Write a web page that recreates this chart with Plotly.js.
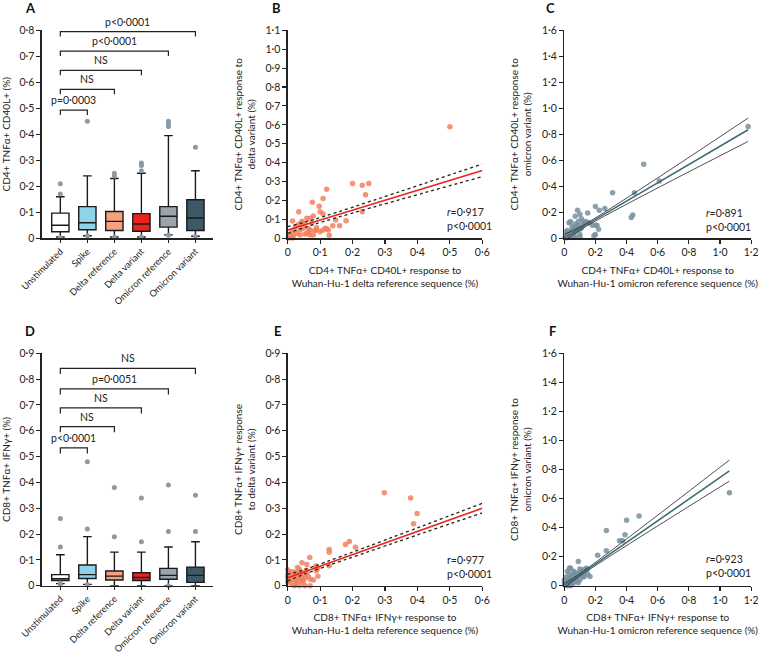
<!DOCTYPE html>
<html>
<head>
<meta charset="utf-8">
<script src="https://cdn.plot.ly/plotly-3.0.1.min.js"></script>
<style>html,body{margin:0;padding:0;background:#fff;}#chart{width:758px;height:653px;}</style>
</head>
<body>
<div id="chart"></div>
<script>
// ---------- DATA ----------
const categories = ['Unstimulated','Spike','Delta reference','Delta variant','Omicron reference','Omicron variant'];

// Panel A: CD4+ TNFa+ CD40L+ (%)
const aLow  = [0.005,0.010,0.005,0.005,0.013,0.008];
const aQ1   = [0.025,0.033,0.030,0.027,0.043,0.030];
const aMed  = [0.050,0.060,0.065,0.055,0.085,0.078];
const aQ3   = [0.097,0.122,0.103,0.095,0.122,0.148];
const aHigh = [0.160,0.240,0.230,0.250,0.395,0.260];
const aOutCat = ['Unstimulated','Unstimulated','Unstimulated','Spike','Spike','Delta reference','Delta reference','Delta reference','Delta variant','Delta variant','Delta variant','Delta variant','Omicron reference','Omicron reference','Omicron reference','Omicron reference','Omicron variant','Omicron variant'];
const aOutVal = [0.17,0.21,0.003,0.45,0.010,0.24,0.25,0.004,0.26,0.28,0.29,0.005,0.43,0.44,0.45,0.012,0.35,0.008];
const aBracketTo = [1,2,3,4,5];
const aBracketLevel = [0.493,0.573,0.646,0.720,0.795];
const aBracketText = ['p=0·0003','NS','NS','p&lt;0·0001','p&lt;0·0001'];

// Panel D: CD8+ TNFa+ IFNg+ (%)
const dLow  = [0.008,0.005,0.000,0.000,0.000,0.000];
const dQ1   = [0.020,0.028,0.022,0.020,0.025,0.013];
const dMed  = [0.027,0.043,0.037,0.032,0.040,0.040];
const dQ3   = [0.043,0.080,0.057,0.050,0.067,0.072];
const dHigh = [0.120,0.190,0.130,0.130,0.150,0.170];
const dOutCat = ['Unstimulated','Unstimulated','Unstimulated','Unstimulated','Spike','Spike','Spike','Delta reference','Delta reference','Delta variant','Delta variant','Omicron reference','Omicron reference','Omicron reference','Omicron variant','Omicron variant'];
const dOutVal = [0.15,0.26,0.005,0.010,0.22,0.48,0.004,0.19,0.38,0.17,0.34,0.21,0.39,0.0,0.21,0.35];
const dBracketTo = [1,2,3,4,5];
const dBracketLevel = [0.534,0.616,0.689,0.762,0.842];
const dBracketText = ['p&lt;0·0001','NS','NS','p=0·0051','NS'];

// Panel B: CD4 delta reference (x) vs delta variant (y)
const bX = [0.50,0.20,0.23,0.25,0.24,0.23,0.18,0.16,0.148,0.139,0.128,0.12,0.109,0.097,0.10,0.109,0.076,0.034,0.015,0.059,0.069,0.079,0.116,0.109,0.12,0.089,0.083,0.064,0.064,0.053,0.069,0.038,0.043,0.053,0.034,0.024,0.038,0.048,0.074,0.089,0.10,0.079,0.028,0.012,0.017,0.005,0.009,0.002,0.014,0.020,0.059,0.069,0.125,0.044];
const bY = [0.59,0.29,0.28,0.29,0.23,0.14,0.093,0.067,0.097,0.067,0.016,0.26,0.21,0.17,0.14,0.13,0.19,0.14,0.092,0.106,0.106,0.118,0.053,0.044,0.050,0.056,0.040,0.051,0.032,0.023,0.018,0.018,0.079,0.079,0.074,0.062,0.044,0.053,0.079,0.044,0.035,0.018,0.026,0.032,0.012,0.005,0.018,0.002,0.002,0.044,0.026,0.044,0.044,0.090];
const bFitX = [0, 0.08, 0.6];
const bFitY = [0.044, 0.086, 0.359];
const bUpY  = [0.062, 0.099, 0.393];
const bLoY  = [0.026, 0.073, 0.326];

// Panel C: CD4 omicron reference (x) vs omicron variant (y)
const cX = [1.18,0.51,0.31,0.45,0.61,0.44,0.43,0.20,0.26,0.225,0.15,0.085,0.10,0.07,0.11,0.12,0.04,0.03,0.09,0.05,0.20,0.21,0.22,0.20,0.18,0.16,0.14,0.13,0.12,0.10,0.08,0.07,0.06,0.05,0.04,0.03,0.02,0.01,0.02,0.03,0.04,0.05,0.06,0.07,0.10,0.10,0.19,0.01,0.02,0.005,0.015,0.07,0.09,0.09,0.11,0.08];
const cY = [0.86,0.57,0.35,0.35,0.44,0.18,0.16,0.245,0.23,0.215,0.195,0.215,0.185,0.17,0.15,0.13,0.13,0.12,0.10,0.09,0.10,0.10,0.07,0.03,0.10,0.12,0.13,0.12,0.10,0.07,0.06,0.05,0.08,0.06,0.05,0.04,0.03,0.02,0.01,0.02,0.01,0.03,0.02,0.01,0.03,0.01,0.02,0.05,0.06,0.01,0.005,0.11,0.13,0.08,0.08,0.09];
const cFitX = [0, 0.12, 1.18];
const cFitY = [0.005, 0.089, 0.835];
const cUpY  = [0.030, 0.100, 0.925];
const cLoY  = [-0.020, 0.078, 0.745];

// Panel E: CD8 delta reference (x) vs delta variant (y)
const eX = [0.298,0.379,0.399,0.388,0.19,0.178,0.209,0.128,0.128,0.128,0.068,0.044,0.059,0.087,0.092,0.088,0.093,0.0,0.0,0.0,0.0,0.007,0.010,0.017,0.023,0.026,0.028,0.030,0.036,0.041,0.046,0.033,0.038,0.046,0.054,0.059,0.064,0.053,0.069,0.020,0.079,0.071,0.048,0.043,0.015,0.004,0.036,0.028,0.012,0.023,0.089,0.057];
const eY = [0.36,0.34,0.28,0.24,0.171,0.16,0.149,0.14,0.13,0.077,0.109,0.089,0.082,0.076,0.068,0.058,0.037,0.062,0.042,0.032,0.015,0.030,0.009,0.040,0.024,0.009,0.044,0.070,0.064,0.051,0.048,0.032,0.018,0.022,0.030,0.045,0.035,0.0,0.0,0.0,0.022,0.024,0.012,0.032,0.054,0.054,0.0,0.019,0.022,0.051,0.067,0.060];
const eFitX = [0, 0.05, 0.6];
const eFitY = [0.031, 0.053, 0.300];
const eUpY  = [0.044, 0.062, 0.319];
const eLoY  = [0.018, 0.044, 0.282];

// Panel F: CD8 omicron reference (x) vs omicron variant (y)
const fX = [1.06,0.48,0.40,0.27,0.39,0.355,0.374,0.27,0.214,0.09,0.034,0.128,0.165,0.15,0.10,0.147,0.01,0.02,0.03,0.01,0.02,0.03,0.04,0.05,0.04,0.06,0.05,0.07,0.06,0.08,0.07,0.09,0.10,0.11,0.12,0.02,0.04,0.03,0.01,0.0,0.0,0.005,0.02,0.04,0.06,0.08,0.10,0.09,0.05,0.03,0.015,0.025,0.035,0.045,0.07,0.12,0.13,0.14,0.06,0.08,0.11];
const fY = [0.64,0.48,0.45,0.38,0.35,0.31,0.31,0.24,0.21,0.166,0.122,0.064,0.064,0.08,0.115,0.115,0.01,0.02,0.01,0.03,0.04,0.05,0.03,0.04,0.06,0.05,0.07,0.06,0.08,0.07,0.09,0.08,0.09,0.10,0.11,0.10,0.12,0.08,0.06,0.04,0.02,0.005,0.0,0.0,0.02,0.03,0.04,0.02,0.01,0.03,0.015,0.035,0.045,0.02,0.04,0.06,0.10,0.12,0.10,0.05,0.07];
const fFitX = [0, 0.10, 1.06];
const fFitY = [0.000, 0.075, 0.790];
const fUpY  = [0.015, 0.083, 0.865];
const fLoY  = [-0.015, 0.067, 0.720];

// ---------- STYLE ----------
const FONT = 'Lato, "Open Sans", "DejaVu Sans", sans-serif';
const boxColors = ['#ffffff','#8fd3ea','#f7a07f','#e8251c','#99a4ab','#3e5966'];
const outlierColor = '#8a9ba6';
const orangeDot = 'rgba(242,128,94,0.85)';
const slateDot = 'rgba(120,145,157,0.85)';
const W = 758, H = 653;
const px = v => v / W;
const py = v => 1 - v / H;

const traces = [];

function addBoxPanel(xa, ya, low, q1, med, q3, high, outCat, outVal, brTo, brLvl, drop) {
  categories.forEach((c, i) => {
    traces.push({
      type: 'box', xaxis: xa, yaxis: ya, x: [c],
      lowerfence: [low[i]], q1: [q1[i]], median: [med[i]], q3: [q3[i]], upperfence: [high[i]],
      fillcolor: boxColors[i], line: {color: '#1a1a1a', width: 1.4},
      width: 0.64, whiskerwidth: 0.5, boxpoints: false, hoverinfo: 'skip', showlegend: false
    });
  });
  traces.push({
    type: 'scatter', mode: 'markers', xaxis: xa, yaxis: ya, x: outCat, y: outVal,
    marker: {color: outlierColor, size: 5}, cliponaxis: false, showlegend: false, hoverinfo: 'skip'
  });
  brTo.forEach((t, i) => {
    traces.push({
      type: 'scatter', mode: 'lines', xaxis: xa, yaxis: ya,
      x: [categories[0], categories[0], categories[t], categories[t]],
      y: [brLvl[i] - drop, brLvl[i], brLvl[i], brLvl[i] - drop],
      line: {color: '#222', width: 1.2}, cliponaxis: false, showlegend: false, hoverinfo: 'skip'
    });
  });
}

function addScatterPanel(xa, ya, xs, ys, dotColor, fitX, fitY, upY, loY, fitColor, bandDash, bandWidth) {
  traces.push({
    type: 'scatter', mode: 'markers', xaxis: xa, yaxis: ya, x: xs, y: ys,
    marker: {color: dotColor, size: 5.5}, cliponaxis: false, showlegend: false, hoverinfo: 'skip'
  });
  [upY, loY].forEach(b => traces.push({
    type: 'scatter', mode: 'lines', xaxis: xa, yaxis: ya, x: fitX, y: b,
    line: {color: '#222', width: bandWidth, dash: bandDash, shape: 'spline'}, showlegend: false, hoverinfo: 'skip'
  }));
  traces.push({
    type: 'scatter', mode: 'lines', xaxis: xa, yaxis: ya, x: fitX, y: fitY,
    line: {color: fitColor, width: 1.6}, showlegend: false, hoverinfo: 'skip'
  });
}

addBoxPanel('x', 'y', aLow, aQ1, aMed, aQ3, aHigh, aOutCat, aOutVal, aBracketTo, aBracketLevel, 0.019);
addScatterPanel('x2', 'y2', bX, bY, orangeDot, bFitX, bFitY, bUpY, bLoY, '#e8251c', 'dot', 1.3);
addScatterPanel('x3', 'y3', cX, cY, slateDot, cFitX, cFitY, cUpY, cLoY, '#3f6b78', 'solid', 0.8);
addBoxPanel('x4', 'y4', dLow, dQ1, dMed, dQ3, dHigh, dOutCat, dOutVal, dBracketTo, dBracketLevel, 0.022);
addScatterPanel('x5', 'y5', eX, eY, orangeDot, eFitX, eFitY, eUpY, eLoY, '#e8251c', 'dot', 1.3);
addScatterPanel('x6', 'y6', fX, fY, slateDot, fFitX, fFitY, fUpY, fLoY, '#3f6b78', 'solid', 0.8);

// ticks
function fmt(v) { return v === 0 ? '0' : v.toFixed(1).replace('.', '·'); }
function tickVals(max, step) { const a = []; for (let i = 0; i <= Math.round(max / step); i++) a.push(+(i * step).toFixed(2)); return a; }

const axBase = {
  showgrid: false, zeroline: false, showline: true, linecolor: '#222', linewidth: 1.3,
  ticks: 'outside', ticklen: 4, tickwidth: 1.1, tickcolor: '#222', ticklabeloverflow: 'allow',
  tickfont: {family: FONT, size: 10.5, color: '#222'}, fixedrange: true
};
function numAxis(domain, anchor, max, step, title, standoff) {
  const tv = tickVals(max, step);
  return Object.assign({}, axBase, {
    domain: domain, anchor: anchor, range: [0, max], tickmode: 'array', tickvals: tv, ticktext: tv.map(fmt),
    title: {text: title, font: {family: FONT, size: 10, color: '#222'}, standoff: standoff}
  });
}
function catAxis(domain, anchor) {
  return Object.assign({}, axBase, {
    domain: domain, anchor: anchor, type: 'category', categoryorder: 'array', categoryarray: categories,
    range: [-0.69, 5.65], tickangle: -45, ticklen: 3, tickfont: {family: FONT, size: 9.2, color: '#222'}
  });
}

const xA = [px(41.7), px(213)], xB = [px(287.7), px(482.3)], xC = [px(564.3), px(751.2)];
const yTop = [py(238.3), py(30.3)], yBot = [py(585.7), py(353.3)];

const layout = {
  width: W, height: H, margin: {l: 0, r: 0, t: 0, b: 0},
  paper_bgcolor: '#fff', plot_bgcolor: 'rgba(0,0,0,0)', showlegend: false, boxmode: 'overlay',
  font: {family: FONT, size: 10.5, color: '#222'},
  xaxis: catAxis(xA, 'y'),
  yaxis: numAxis(yTop, 'x', 0.8, 0.1, 'CD4+ TNFα+ CD40L+ (%)', 8),
  xaxis2: numAxis(xB, 'y2', 0.6, 0.1, 'CD4+ TNFα+ CD40L+ response to<br>Wuhan-Hu-1 delta reference sequence (%)', 9),
  yaxis2: numAxis(yTop, 'x2', 1.1, 0.1, 'CD4+ TNFα+ CD40L+ response to<br>delta variant (%)', 8),
  xaxis3: numAxis(xC, 'y3', 1.2, 0.2, 'CD4+ TNFα+ CD40L+ response to<br>Wuhan-Hu-1 omicron reference sequence (%)', 9),
  yaxis3: numAxis(yTop, 'x3', 1.6, 0.2, 'CD4+ TNFα+ CD40L+ response to<br>omicron variant (%)', 8),
  xaxis4: catAxis(xA, 'y4'),
  yaxis4: numAxis(yBot, 'x4', 0.9, 0.1, 'CD8+ TNFα+ IFNγ+ (%)', 8),
  xaxis5: numAxis(xB, 'y5', 0.6, 0.1, 'CD8+ TNFα+ IFNγ+ response to<br>Wuhan-Hu-1 delta reference sequence (%)', 9),
  yaxis5: numAxis(yBot, 'x5', 0.9, 0.1, 'CD8+ TNFα+ IFNγ+ response<br>to delta variant (%)', 8),
  xaxis6: numAxis(xC, 'y6', 1.2, 0.2, 'CD8+ TNFα+ IFNγ+ response to<br>Wuhan-Hu-1 omicron reference sequence (%)', 9),
  yaxis6: numAxis(yBot, 'x6', 1.6, 0.2, 'CD8+ TNFα+ IFNγ+ response to<br>omicron variant (%)', 8),
  annotations: []
};

const ann = layout.annotations;
// Panel letters
[['A', 30, 8], ['B', 276, 8], ['C', 550, 8], ['D', 30, 331], ['E', 277, 331], ['F', 552, 331]].forEach(([t, x, y]) => {
  ann.push({text: '<b>' + t + '</b>', xref: 'paper', yref: 'paper', x: px(x), y: py(y), xanchor: 'center', yanchor: 'middle',
    showarrow: false, font: {family: FONT, size: 13, color: '#111'}});
});
// Bracket labels
function bracketLabels(xa, ya, to, lvl, txt) {
  to.forEach((t, i) => ann.push({text: txt[i], xref: xa, yref: ya, x: t / 2, y: lvl[i], yanchor: 'bottom', yshift: 2,
    showarrow: false, font: {family: FONT, size: 10.5, color: '#222'}}));
}
bracketLabels('x', 'y', aBracketTo, aBracketLevel, aBracketText);
bracketLabels('x4', 'y4', dBracketTo, dBracketLevel, dBracketText);
// correlation labels
function corr(xa, ya, x, y1, y2, rtxt) {
  ann.push({text: rtxt, xref: xa + ' domain', yref: ya + ' domain', x: x, y: y1, xanchor: 'left', yanchor: 'middle', showarrow: false,
    font: {family: FONT, size: 10.5, color: '#222'}});
  ann.push({text: 'p&lt;0·0001', xref: xa + ' domain', yref: ya + ' domain', x: x, y: y2, xanchor: 'left', yanchor: 'middle', showarrow: false,
    font: {family: FONT, size: 10.5, color: '#222'}});
}
corr('x2', 'y2', 0.81, 0.126, 0.059, '<i>r</i>=0·917');
corr('x3', 'y3', 0.745, 0.12, 0.055, '<i>r</i>=0·891');
corr('x5', 'y5', 0.81, 0.11, 0.05, 'r=0·977');
corr('x6', 'y6', 0.745, 0.117, 0.056, '<i>r</i>=0·923');

Plotly.newPlot('chart', traces, layout, {displayModeBar: false, staticPlot: true});
</script>
</body>
</html>
